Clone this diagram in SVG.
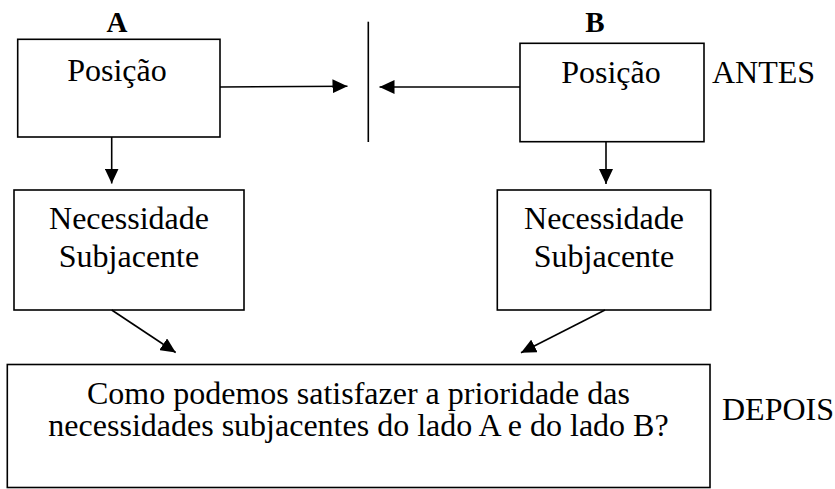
<svg xmlns="http://www.w3.org/2000/svg" width="835" height="489" viewBox="0 0 835 489">
<defs>
<style>
.box{fill:#fff;stroke:#000;stroke-width:1.6}
text{font-family:"Times New Roman","Liberation Serif","DejaVu Serif",serif;fill:#000;font-weight:400}
.t{font-size:32px;text-anchor:middle}
.lbl{font-size:29px;font-weight:700;text-anchor:middle}
.side{font-size:32px}
.c{stroke:#000;stroke-width:1.6;fill:none}
</style>
<marker id="ah" markerUnits="userSpaceOnUse" markerWidth="15" markerHeight="14" refX="15" refY="7" orient="auto" viewBox="0 0 15 14">
<path d="M0,0 L15,7 L0,14 z" fill="#000"/>
</marker>
</defs>
<rect width="835" height="489" fill="#fff"/>
<text class="lbl" x="117" y="31.5">A</text>
<text class="lbl" x="595" y="31.5">B</text>
<text class="side" x="712" y="83">ANTES</text>
<text class="side" x="722" y="420">DEPOIS</text>
<g id="posA">
<rect class="box" x="17.7" y="39.3" width="202.3" height="97.7"/>
<text class="t" x="117" y="81">Posição</text>
</g>
<g id="posB">
<rect class="box" x="520" y="43.3" width="184" height="98.4"/>
<text class="t" x="611" y="82.7">Posição</text>
</g>
<g id="barreira">
<line class="c" x1="368.3" y1="21.7" x2="368.3" y2="142"/>
</g>
<g id="necA">
<rect class="box" x="14" y="190" width="230" height="120"/>
<text class="t" x="129" y="229">Necessidade</text>
<text class="t" x="129" y="266.7">Subjacente</text>
</g>
<g id="necB">
<rect class="box" x="497.3" y="190" width="213.4" height="120"/>
<text class="t" x="604" y="229">Necessidade</text>
<text class="t" x="604" y="266.7">Subjacente</text>
</g>
<g id="depois">
<rect class="box" x="7.3" y="364.5" width="702.7" height="123"/>
<text class="t" x="358.5" y="404">Como podemos satisfazer a prioridade das</text>
<text class="t" x="358.5" y="436">necessidades subjacentes do lado A e do lado B?</text>
</g>
<g id="connectors">
<line class="c" x1="220" y1="87" x2="347.5" y2="86.2" marker-end="url(#ah)"/>
<line class="c" x1="520" y1="87" x2="379.5" y2="87" marker-end="url(#ah)"/>
<line class="c" x1="111.7" y1="137" x2="111.7" y2="183.5" marker-end="url(#ah)"/>
<line class="c" x1="606" y1="141.7" x2="606" y2="184" marker-end="url(#ah)"/>
<line class="c" x1="111.7" y1="310" x2="175.7" y2="352.5" marker-end="url(#ah)"/>
<line class="c" x1="605" y1="310" x2="521" y2="352.7" marker-end="url(#ah)"/>
</g>
</svg>
